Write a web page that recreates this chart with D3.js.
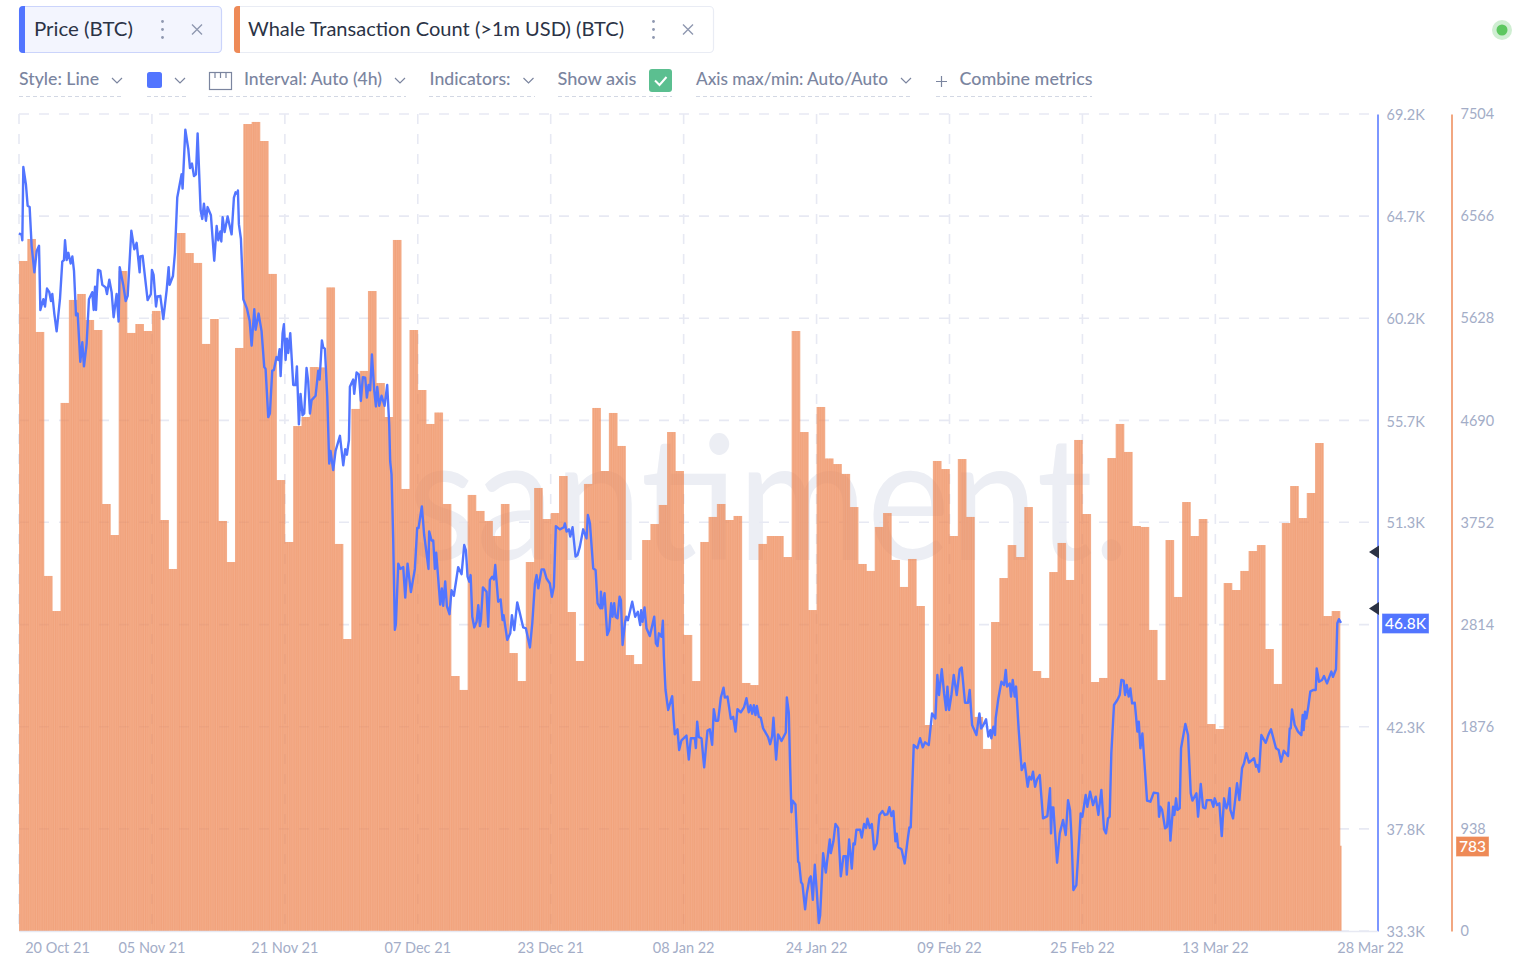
<!DOCTYPE html>
<html><head><meta charset="utf-8">
<script src="https://cdn.jsdelivr.net/npm/d3@7"></script>
<style>
html,body{margin:0;padding:0;background:#fff;overflow:hidden}
svg{display:block}
text{font-family:Lato,"Open Sans",sans-serif}
</style></head><body><div id="chart"></div>
<script>
const startDate = new Date(2021, 9, 20);
const dateTickOffsets = [0,16,32,48,64,80,96,112,128,144,159];
const priceTicks = [33300,37788,42275,46763,51260,55738,60225,64713,69200];
const whaleTicks = [0,938,1876,2814,3752,4690,5628,6566,7504];
const metricNames = ["Price (BTC)", "Whale Transaction Count (>1m USD) (BTC)"];
const toolbarLabels = ["Style: Line","Interval: Auto (4h)","Indicators:","Show axis","Axis max/min: Auto/Auto","Combine metrics"];
const lastPriceLabel = "46.8K";
const lastWhaleLabel = "783";
const whaleCounts = [
6154,6356,5502,3261,2939,4850,5796,5851,5612,5520,3922,3637,6062,5493,5575,5511,5695,3775,3325,6411,
6227,6136,5392,5621,3766,3389,5355,7412,7431,7256,6035,4142,3573,4638,4721,5180,5176,5911,3555,2682,
4795,5144,5878,5033,4721,6347,4060,5520,4969,4657,4762,3922,2342,2214,4005,3858,3766,3628,3922,2553,
2296,3389,4069,3784,3839,4179,2930,2480,4106,4804,4225,4758,4455,2535,2452,3591,3738,3913,4583,4225,
2719,2296,3573,3803,3922,3775,3812,2278,2259,3555,3628,3628,3435,5511,4583,2948,4813,4340,4289,4198,
3894,3371,3307,3711,3839,3408,3160,3417,2985,1892,4317,4243,3628,4335,3803,1966,1672,2838,3242,3545,
3435,3894,2388,2324,3297,3564,3224,4510,3830,2287,2324,4344,4657,4400,3720,3711,2765,2305,3591,3068,
3940,3628,3784,1901,1855,3196,3132,3307,3490,3545,2590,2269,3747,4087,3793,4023,4482,2893,2939,783];
// [days since start, price in thousands of USD]
const pricePoints = [
[0,63.96],[.32,63.88],[.4,63.65],[.52,66.87],[.84,66.08],[1.04,65.17],[1.28,65.11],[1.52,63.41],[1.85,62.24],[2.13,63.18],[2.41,63.41],[2.57,60.59],[2.93,61.06],[3.13,60.74],[3.37,61.53],[3.65,61.37],[3.85,60.98],[4.01,61.29],[4.25,60.43],[4.53,59.65],[4.93,61.06],[5.21,62.71],[5.41,62.78],[5.54,63.65],[5.74,62.78],[5.94,63.1],[6.22,62.63],[6.42,62.94],[6.62,62.31],[6.86,60.35],[7.06,60.43],[7.38,58.31],[7.62,59.17],[7.82,58.11],[8.14,59.1],[8.42,61.06],[8.82,61.37],[8.99,60.59],[9.15,61.61],[9.27,60.59],[9.51,62.35],[9.79,62.31],[10.03,61.69],[10.43,61.58],[10.59,61.29],[10.87,61.92],[11.15,61.37],[11.39,60.27],[11.75,61.29],[11.99,60.08],[12.12,62.47],[12.55,61.69],[12.84,60.98],[13.08,61.21],[13.52,64.07],[13.88,63.25],[14.16,63.54],[14.52,62.24],[14.6,62.94],[14.88,62.97],[15.48,61.02],[15.88,61.29],[16,62.35],[16.2,62.13],[16.49,60.74],[16.65,61.18],[17.01,61.21],[17.37,60.19],[17.77,61.45],[18.01,62.47],[18.13,61.69],[18.53,62.08],[18.77,63.1],[19.05,65.53],[19.57,66.55],[19.69,65.92],[20.02,68.51],[20.38,67.65],[20.58,66.82],[20.82,67.02],[21.06,66.47],[21.3,66.55],[21.5,68.35],[21.86,64.98],[22.06,64.59],[22.26,65.26],[22.5,64.51],[22.7,65.11],[23.1,64.75],[23.5,62.75],[23.79,64.28],[23.99,63.65],[24.23,64.04],[24.35,63.6],[24.51,64.67],[24.75,64.01],[25.11,64.7],[25.59,63.91],[25.87,65.53],[26.07,65.76],[26.27,65.69],[26.35,65.84],
[26.47,64.35],[26.71,63.72],[27,61.06],[27.43,60.66],[27.76,60.12],[28,59.02],[28.32,60.62],[28.48,59.72],[28.84,60.43],[29.2,59.65],[29.52,58.08],[29.68,58],[30,55.88],[30.2,56.04],[30.48,57.92],[30.68,57.95],[31,58.52],[31.2,58.39],[31.36,58.86],[31.49,57.68],[31.73,59.57],[31.89,59.96],[32.09,58.39],[32.25,59.33],[32.41,58.7],[32.65,59.57],[33.01,57.29],[33.29,57.29],[33.45,58.11],[33.69,55.56],[33.89,56.9],[34.13,55.96],[34.33,56.04],[34.61,58.04],[34.81,57.45],[35.02,56.04],[35.22,56.63],[35.7,56.82],[36.02,57.92],[36.18,57.53],[36.46,59.25],[36.62,58.94],[36.82,58.89],[37.1,56.82],[37.34,53.84],[37.5,54.39],[37.82,53.55],[38.1,54.39],[38.63,55.06],[39.03,53.76],[39.27,54.47],[39.47,54.23],[39.71,54.86],[39.83,57.21],[40.23,57.53],[40.35,56.9],[40.63,57.84],[40.91,57.76],[41.15,56.59],[41.39,57.64],[41.67,57.61],[41.87,56.74],[42.07,57.29],[42.27,57.06],[42.48,58.63],[42.76,57.06],[42.96,56.35],[43.12,57.21],[43.36,56.38],[43.64,56.82],[44,56.38],[44.32,57.29],[44.56,55.56],[44.68,53.92],[44.84,53.37],[45.04,50.54],[45.24,46.54],[45.36,46.77],[45.65,49.44],[45.89,49.21],[46.25,49.29],[46.49,47.95],[46.77,49.44],[47.17,48.19],[47.65,49.21],[47.93,51.01],[48.09,51.01],[48.49,51.96],[48.77,50.7],[49.05,49.92],[49.29,49.21],[49.37,50.86],[49.66,50.46],[49.86,50.46],[50.06,49.21],[50.22,49.92],[50.7,47.64],[50.9,48.35],[51.06,47.59],[51.3,48.66],[51.5,47.59],[51.82,47.22],[52.06,48.27],[52.34,48.03],[52.67,48.82],[52.86,49.29],[53.27,48.98],
[53.59,50.26],[53.79,50.04],[53.99,48.87],[54.2,48.65],[54.36,48.94],[54.56,47.11],[54.8,46.64],[55.08,46.89],[55.28,47.62],[55.48,46.7],[55.6,46.96],[55.84,48.4],[56.28,48.21],[56.48,46.67],[56.68,48.72],[56.96,48.87],[57.16,48.75],[57.32,49.38],[57.68,47.77],[57.97,47.87],[58.21,46.96],[58.33,47.18],[58.77,46.09],[59.13,46.38],[59.33,47.18],[59.61,46.52],[59.97,47.74],[60.29,47.26],[60.69,46.64],[61.01,46.6],[61.5,45.76],[61.78,46.82],[62.1,48.57],[62.3,48.94],[62.5,48.36],[62.9,49.19],[63.18,49.19],[63.5,48.79],[63.9,48.57],[64.14,47.99],[64.38,48.43],[64.62,51.09],[65.1,50.95],[65.59,51.04],[65.71,51.21],[65.91,50.85],[66.19,50.95],[66.35,50.63],[66.63,51.04],[66.99,49.75],[67.23,49.82],[67.51,50.19],[67.91,50.95],[68.31,50.55],[68.47,51.58],[68.72,51.21],[69.12,49.23],[69.4,49.16],[69.64,47.7],[70,47.48],[70.04,48.21],[70.2,47.48],[70.48,48.14],[70.8,46.3],[71.04,46.52],[71.28,47.7],[71.44,47.11],[71.64,47.7],[71.8,47.11],[72.04,47.04],[72.29,47.99],[72.45,47.84],[72.65,45.87],[72.93,46.82],[73.09,47.11],[73.29,46.96],[73.81,47.77],[74.17,47.11],[74.49,47.33],[74.77,46.74],[74.89,47.4],[75.05,46.89],[75.29,47.52],[75.53,46.6],[75.93,46.26],[76.46,47.11],[76.66,45.94],[76.86,45.82],[77.02,46.38],[77.34,46.23],[77.5,46.93],[77.62,45.35],[77.82,43.89],[78.14,43.01],[78.62,43.62],[78.8,42.6],
[78.94,41.94],[79.26,42.16],[79.46,41.25],[79.74,41.68],[80.34,41.89],[80.62,40.83],[80.87,41.77],[81.35,41.77],[81.47,41.34],[81.63,42.5],[81.83,41.82],[82.15,41.77],[82.47,40.49],[82.87,42.11],[83.15,42.16],[83.43,41.48],[83.63,43.05],[83.87,42.54],[84.15,42.54],[84.48,43.56],[84.8,43.99],[84.96,43.56],[85.28,43.6],[85.68,42.62],[85.96,42.71],[86.24,42.06],[86.48,43.05],[86.88,42.91],[87.28,43.14],[87.56,43.53],[87.84,42.91],[88.05,43.22],[88.25,42.85],[88.45,43.22],[88.65,42.79],[88.81,43.19],[89.05,42.71],[89.29,42.67],[89.57,42.2],[90.17,41.82],[90.41,41.51],[90.65,41.85],[90.81,42.67],[91.13,40.83],[91.37,41.94],[91.78,41.65],[92.3,42.02],[92.42,43.56],[92.66,42.88],[92.82,40.48],[92.98,38.52],[93.1,39.03],[93.46,38.86],[93.78,36.35],[93.9,36.3],[94.14,35.44],[94.3,35.36],[94.62,34.25],[94.82,34.93],[95.15,35.61],[95.31,35.7],[95.55,34.67],[95.79,36.21],[96.03,35.01],[96.27,33.65],[96.43,33.99],[96.79,36.72],[97.11,35.87],[97.59,37.32],[97.71,36.72],[98.03,37.24],[98.27,38],[98.59,37.83],[98.92,35.7],[99.24,36.59],[99.52,36.59],[99.64,35.78],[99.92,37.32],[100.24,36.04],[100.44,37.15],[100.6,37.1],[100.8,37.75],[101.24,37.75],[101.44,37.41],[101.72,38],[101.96,37.83],[102.12,38.23],[102.41,37.83],[102.65,38],[102.93,36.89],[103.25,37.15],[103.57,38.4],[103.93,38.57],[104.21,38.4],[104.53,38.43],[104.77,38.74],[105.01,38.35],[105.25,38.57],[105.49,37.24],[105.65,37.58],[105.82,36.98],[106.22,36.89],
[106.61,36.27],[106.93,37.22],[107.17,37.85],[107.33,37.85],[107.7,41.47],[108.14,41.33],[108.46,41.77],[108.78,41.37],[109.06,41.59],[109.5,41.47],[109.9,42.86],[110.3,42.64],[110.54,44.55],[110.74,43.67],[111.07,44.8],[111.35,43.74],[111.59,43.01],[111.75,44.04],[111.95,43.01],[112.23,43.67],[112.51,44.55],[112.87,43.67],[113.23,44.8],[113.47,44.88],[113.87,43.33],[114.23,43.33],[114.43,43.89],[114.72,42.35],[115.24,41.91],[115.4,42.35],[115.6,42.86],[115.8,42.2],[116.08,42.35],[116.4,42.6],[116.68,41.84],[116.92,42.13],[117.04,41.77],[117.28,42.28],[117.48,41.91],[117.56,42.64],[117.88,43.52],[118.25,44.25],[118.57,44.11],[118.77,44.77],[118.93,44.04],[119.25,44.18],[119.41,43.6],[119.61,44.33],[119.85,43.6],[120.01,44.04],[120.33,42.13],[120.69,40.37],[121.05,40.67],[121.41,39.64],[121.61,40.08],[121.85,39.96],[122.05,40.3],[122.3,39.64],[122.54,39.96],[122.86,40.15],[123.26,38.25],[123.78,38.35],[124.1,39.57],[124.22,37.59],[124.34,38.73],[124.5,38.73],[124.95,36.3],[125.27,37.59],[125.67,38.18],[125.99,37.52],[126.27,39.05],[126.51,38.62],[126.71,37.22],[126.91,35.1],[127.27,35.32],[127.55,37],[127.79,38.47],[127.99,38.32],[128.39,39.28],[128.59,38.76],[128.92,39.42],[129.28,38.83],[129.6,39.2],[129.92,38.4],[130.28,39.5],[130.6,37.77],[130.84,37.59],[131.08,38.25],[131.28,38.32],[131.48,41.11],[131.8,43.23],[132.2,43.45],[132.49,43.67],
[132.69,44.33],[132.97,44.3],[133.13,43.67],[133.33,44.11],[133.57,43.6],[133.77,43.96],[133.98,43.3],[134.3,43.33],[134.62,42.06],[134.78,42.5],[134.98,41.33],[135.22,41.98],[135.78,39.03],[136.18,38.98],[136.58,39.38],[137.1,39.35],[137.22,38.32],[137.38,38.76],[137.59,38.62],[137.95,37.81],[138.19,37.88],[138.39,38.94],[138.59,37.27],[138.91,38.76],[139.07,38.4],[139.27,39.13],[139.43,38.62],[139.71,38.69],[139.87,41.33],[140.39,42.4],[140.71,41.91],[141.04,39.35],[141.24,39.03],[141.72,39.35],[141.92,38.32],[142.24,39.76],[142.52,38.73],[142.8,38.69],[142.96,39.05],[143.52,39.05],[143.76,38.76],[143.92,39.13],[144.2,38.83],[144.48,38.91],[144.77,37.47],[145.05,39.13],[145.33,38.69],[145.53,38.91],[145.73,39.57],[145.81,38.62],[146.13,38.25],[146.61,39.79],[146.89,39.05],[147.21,40.45],[147.45,40.67],[147.73,41.11],[148.05,40.7],[148.66,40.89],[148.9,40.52],[149.06,40.59],[149.26,40.3],[149.54,41.91],[150.06,41.57],[150.42,41.95],[150.7,42.16],[151.3,41.33],[151.62,41.25],[151.91,40.74],[152.23,41.22],[152.75,40.99],[152.95,42.2],[153.07,42.2],[153.23,43.04],[153.55,42.35],[153.95,42.06],[154.35,41.91],[154.51,42.79],[154.63,42.13],[154.79,42.94],[154.95,42.64],[155.19,43.16],[155.43,43.82],[155.76,43.89],[156.08,43.89],[156.2,44.84],[156.48,44.25],[156.84,44.33],[157.08,44.5],[157.44,44.18],[157.96,44.7],[158.16,44.47],[158.52,44.8],[158.68,46.82],[158.88,47],[159.12,46.84]];

const W=1536,H=971, L=19, R=1377.5, T=114, B=931, ORANGE_AXIS=1451.5;
const DAY=8.308, SUB=6;
const BLUE="#5275ff", ORANGE="#ee8a57", TICK="#a3adc7", TOOL="#7b859f", GRID="#e7e9f3";
const dayDate=d=>new Date(+startDate+d*864e5);
const x=d3.scaleTime().domain([startDate,dayDate((R-L)/DAY)]).range([L,R]);
const yP=d3.scaleLinear().domain([33300,69200]).range([B,T]);
const yW=d3.scaleLinear().domain([0,7504]).range([B,T]);
const svg=d3.select("#chart").append("svg").attr("width",W).attr("height",H);

// --- header tabs
function tab(x0,w,fill,stroke,accent,label,tx,tw,dots,cross){
  const g=svg.append("g");
  g.append("rect").attr("x",x0+.5).attr("y",6.5).attr("width",w).attr("height",46).attr("rx",4).attr("fill",fill).attr("stroke",stroke).attr("stroke-width",1.2);
  g.append("path").attr("d",`M${x0+6} 6 H${x0+4} a4 4 0 0 0 -4 4 V49 a4 4 0 0 0 4 4 H${x0+6} Z`).attr("fill",accent);
  g.append("text").attr("x",tx).attr("y",36).attr("font-size",20).attr("fill","#2b3346").attr("textLength",tw).attr("lengthAdjust","spacingAndGlyphs").text(label);
  [-8,0,8].forEach(o=>g.append("circle").attr("cx",dots).attr("cy",29.5+o).attr("r",1.4).attr("fill","#8f98b0"));
  g.append("path").attr("d",`M${cross-5} 24.5 l10 10 m0 -10 l-10 10`).attr("stroke","#8f98b0").attr("stroke-width",1.4).attr("fill","none");
}
tab(19,202,"#f3f5fe","#cbd4fb",BLUE,metricNames[0],34,99,162.5,197);
tab(234,479,"#ffffff","#e9ecf4",ORANGE,metricNames[1],248,376,653.5,688);

// status dot
svg.append("ellipse").attr("cx",1502).attr("cy",30).attr("rx",10).attr("ry",10).attr("fill","#cfeed2");
svg.append("circle").attr("cx",1502).attr("cy",30).attr("r",5.5).attr("fill","#5cc75f");

// --- toolbar
const toolbarX=[19,244,429.5,557.5,696,959.5];
const toolbarW=[80,138,81,79,192,133];
const chevX=[117,400,528.5,null,906,null];
toolbarLabels.forEach((t,i)=>{
  svg.append("text").attr("class","tool").attr("x",toolbarX[i]).attr("y",85).attr("font-size",17.4).attr("font-weight",500).attr("fill",TOOL).attr("textLength",toolbarW[i]).attr("lengthAdjust","spacingAndGlyphs").text(t);
  if(chevX[i]) svg.append("path").attr("d",`M${chevX[i]-5} 78 l5 5 l5 -5`).attr("fill","none").attr("stroke",TOOL).attr("stroke-width",1.2);
});
[[19,124],[147,186],[208,406],[429,535],[558,672],[696,912],[936,1092]].forEach(s=>
  svg.append("line").attr("x1",s[0]).attr("x2",s[1]).attr("y1",96.5).attr("y2",96.5).attr("stroke","#d3d8e4").attr("stroke-dasharray","4 3"));
svg.append("rect").attr("x",147).attr("y",72).attr("width",15).attr("height",16).attr("rx",2.5).attr("fill",BLUE);
svg.append("path").attr("d","M175 78 l5 5 l5 -5").attr("fill","none").attr("stroke",TOOL).attr("stroke-width",1.2);
svg.append("rect").attr("x",209.5).attr("y",72.5).attr("width",22).attr("height",17).attr("fill","none").attr("stroke",TOOL).attr("stroke-width",1.2);
svg.append("path").attr("d","M215 73 v5 M220.5 73 v5 M226 73 v5").attr("stroke",TOOL).attr("stroke-width",1.2);
svg.append("rect").attr("x",649).attr("y",69).attr("width",23).attr("height",23).attr("rx",3).attr("fill","#5bbf90");
svg.append("path").attr("d","M655 80.5 l4.5 4.5 l7 -8").attr("fill","none").attr("stroke","#fff").attr("stroke-width",2);
svg.append("path").attr("d","M941.5 76 v11 M936 81.5 h11").attr("stroke",TOOL).attr("stroke-width",1.2);

// --- watermark
svg.append("text").attr("x",408).attr("y",560).attr("font-size",172).attr("font-weight",400).attr("textLength",722).attr("lengthAdjust","spacingAndGlyphs").attr("fill","#eceef4").text("santiment.");

// --- grid
const dateTicks=dateTickOffsets.map(dayDate);
const gridV=svg.append("g");
gridV.selectAll("line").data(dateTicks.slice(0,-1)).join("line")
  .attr("x1",d=>x(d)).attr("x2",d=>x(d)).attr("y1",T).attr("y2",B)
  .attr("stroke",GRID).attr("stroke-width",1.6).attr("stroke-dasharray","10 10");
const gridH=svg.append("g");
gridH.selectAll("line").data(priceTicks).join("line")
  .attr("x1",L).attr("x2",R).attr("y1",d=>yP(d)).attr("y2",d=>yP(d))
  .attr("stroke",GRID).attr("stroke-width",1.6).attr("stroke-dasharray","10 10");

// --- bars: one day is drawn from six 4h sub-bars whose seams show as faint stripes
const clipEnd=x(dayDate(whaleCounts.length-1))+1.5;
svg.append("clipPath").attr("id","barclip").append("rect").attr("x",L).attr("y",T-10).attr("width",clipEnd-L).attr("height",B-T+10);
const barsG=svg.append("g").attr("clip-path","url(#barclip)");
const subData=whaleCounts.flatMap((v,i)=>d3.range(SUB).map(k=>({v,t:i+k/SUB})));
barsG.selectAll("rect").data(subData).join("rect")
  .attr("x",d=>x(dayDate(d.t)))
  .attr("width",DAY/SUB+.35)
  .attr("y",d=>yW(d.v))
  .attr("height",d=>B-yW(d.v))
  .attr("fill","#ee8957").attr("fill-opacity",.7);

// --- price line
const line=d3.line().x(d=>x(dayDate(d[0]))).y(d=>yP(d[1]*1000));
svg.append("path").datum(pricePoints).attr("d",line).attr("fill","none").attr("stroke",BLUE).attr("stroke-width",2.4).attr("stroke-linejoin","round");

// --- axes (the 46.8K tick is shown by the last-value tag that sits on it)
const fmtP=d=>{const s=(d/1000).toFixed(1)+"K";return s===lastPriceLabel?"":s;};
const axP=svg.append("g").attr("transform",`translate(${R},0)`).call(d3.axisRight(yP).tickValues(priceTicks).tickFormat(fmtP).tickSize(0).tickPadding(9));
const axW=svg.append("g").attr("transform",`translate(${ORANGE_AXIS},0)`).call(d3.axisRight(yW).tickValues(whaleTicks).tickSize(0).tickPadding(9).tickFormat(d3.format("d")));
axP.select(".domain").attr("stroke",BLUE).attr("stroke-width",1.5);
axW.select(".domain").attr("stroke",ORANGE).attr("stroke-width",1.5);
const fmtD=d3.timeFormat("%d %b %y");
const axX=svg.append("g").attr("transform",`translate(0,${B})`).call(d3.axisBottom(x).tickValues(dateTicks).tickFormat(fmtD).tickSize(0).tickPadding(12));
axX.select(".domain").attr("stroke",GRID).attr("stroke-width",1.5);
axX.selectAll(".tick text").attr("dx",(d,i)=>i===0?38:(i===dateTicks.length-1?30:-.5));
svg.selectAll(".tick text").attr("fill",TICK).attr("font-size",14.5).attr("font-family","Lato,sans-serif");
axP.selectAll(".tick text").attr("y",1);
axW.selectAll(".tick text").attr("y",0);

// --- markers and last-value tags
[552,608.5].forEach(y=>svg.append("path").attr("d",`M1369 ${y} l10 -6.5 v13 Z`).attr("fill","#2b3245"));
const tag=(x0,w,y0,c,t)=>{
  svg.append("rect").attr("x",x0).attr("y",y0).attr("width",w).attr("height",20).attr("fill",c).attr("stroke","#fff").attr("stroke-opacity",.35);
  svg.append("text").attr("x",x0+w/2).attr("y",y0+15.5).attr("text-anchor","middle").attr("fill","#fff").attr("font-size",15.5).attr("font-weight",500).text(t);
};
tag(1382,47,613.5,BLUE,lastPriceLabel);
tag(1456,33,836.5,ORANGE,lastWhaleLabel);
</script></body></html>
